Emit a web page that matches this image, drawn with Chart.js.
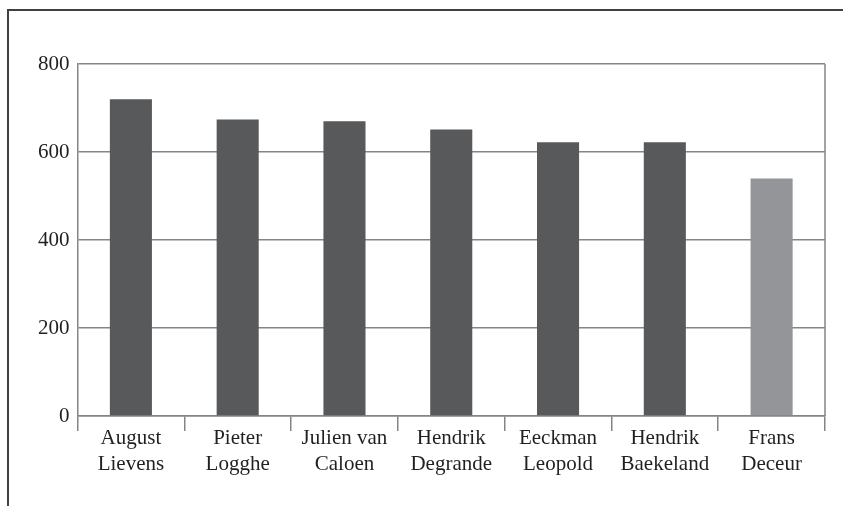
<!DOCTYPE html>
<html>
<head>
<meta charset="utf-8">
<script src="https://cdn.jsdelivr.net/npm/chart.js@4.4.0/dist/chart.umd.min.js"></script>
<style>
  html, body { margin: 0; padding: 0; background: #fff; }
  #wrap { position: relative; width: 843px; height: 506px; }
  #frame { position: absolute; left: 7px; top: 9px; right: 0; bottom: 0;
           border-top: 2px solid #404040; border-left: 2px solid #404040; }
  canvas { position: absolute; left: 0; top: 0; }
</style>
</head>
<body>
<div id="wrap">
  <div id="frame"></div>
  <canvas id="myChart" width="843" height="506"></canvas>
</div>
<script>
// namen en aantallen
const names = [
    ['August', 'Lievens'],
    ['Pieter', 'Logghe'],
    ['Julien van', 'Caloen'],
    ['Hendrik', 'Degrande'],
    ['Eeckman', 'Leopold'],
    ['Hendrik', 'Baekeland'],
    ['Frans', 'Deceur']
];
const votes = [720, 674, 670, 651, 622, 622, 540];
const barColors = ['#58595b', '#58595b', '#58595b', '#58595b', '#58595b', '#58595b', '#939598'];
const yTicks = [0, 200, 400, 600, 800];

const lineGrey = '#858585';
const serif = "'Liberation Serif', 'DejaVu Serif', serif";

// rechterrand van het plotgebied
const rightBorder = {
    id: 'rightBorder',
    afterDraw(chart) {
        const { ctx, chartArea } = chart;
        ctx.save();
        ctx.strokeStyle = lineGrey;
        ctx.lineWidth = 1.5;
        ctx.beginPath();
        ctx.moveTo(chartArea.right, chartArea.top);
        ctx.lineTo(chartArea.right, chartArea.bottom);
        ctx.stroke();
        ctx.restore();
    }
};

const ctx = document.getElementById('myChart').getContext('2d');
const myChart = new Chart(ctx, {
    type: 'bar',
    data: {
        labels: names,
        datasets: [{
            data: votes,
            backgroundColor: barColors,
            borderWidth: 0,
            categoryPercentage: 1,
            barPercentage: 0.394
        }]
    },
    options: {
        responsive: false,
        animation: false,
        layout: { padding: { left: 30, top: 64, right: 18, bottom: 0 } },
        plugins: { legend: { display: false }, tooltip: { enabled: false } },
        scales: {
            x: {
                afterFit: axis => { axis.height = 90; },
                grid: {
                    offset: true,
                    drawOnChartArea: false,
                    drawTicks: true,
                    tickLength: 15,
                    color: lineGrey,
                    lineWidth: 1.5
                },
                border: { display: true, color: lineGrey, width: 1.5 },
                ticks: {
                    color: '#231f20',
                    padding: -6,
                    maxRotation: 0,
                    font: { family: serif, size: 21, lineHeight: 1.25 }
                }
            },
            y: {
                min: 0,
                max: 800,
                afterBuildTicks: axis => { axis.ticks = yTicks.map(v => ({ value: v })); },
                grid: { drawTicks: false, color: lineGrey, lineWidth: 1.5 },
                border: { display: true, color: lineGrey, width: 1.5 },
                ticks: {
                    color: '#231f20',
                    padding: 8,
                    font: { family: serif, size: 21 }
                }
            }
        }
    },
    plugins: [rightBorder]
});
</script>
</body>
</html>
